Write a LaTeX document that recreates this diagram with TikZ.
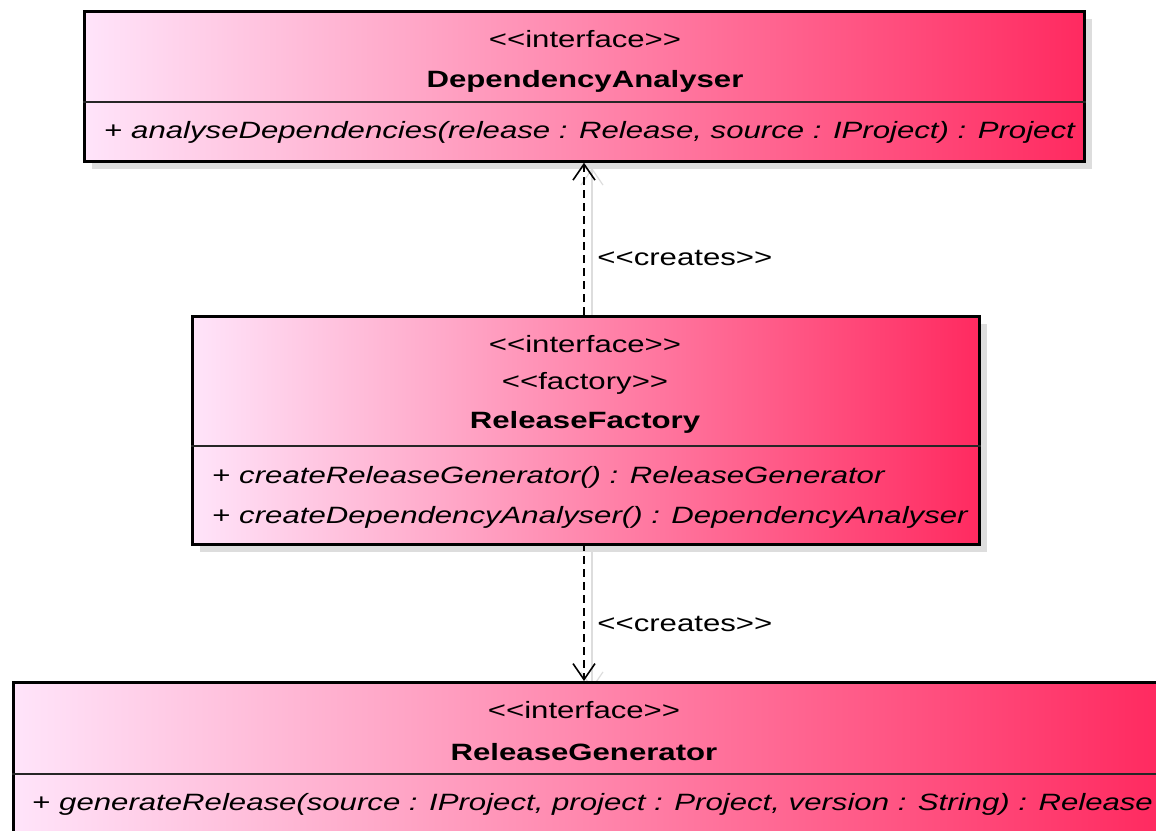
\documentclass[tikz,border=0pt]{standalone}
\usepackage{fontspec}
\usepackage{graphicx}
\setmainfont{Liberation Sans}
\usetikzlibrary{arrows.meta,shadows}

\definecolor{boxleft}{RGB}{255,228,250}
\definecolor{boxright}{RGB}{255,42,96}
\definecolor{shadowgray}{RGB}{221,221,221}

% glyphs in this diagram are set slightly wide
\newcommand{\wide}[1]{\scalebox{1.32}[1]{#1}}
% stereotype in plain angle brackets (kerns keep << from becoming a guillemet)
\newcommand{\stereo}[1]{<\kern0pt<#1>\kern0pt>}

\tikzset{
  classbox/.style={rectangle, draw=black, line width=1.35pt, inner sep=0pt,
    anchor=north west, left color=boxleft, right color=boxright,
    drop shadow={shadow xshift=4pt, shadow yshift=-4pt, fill=shadowgray, opacity=1}},
  divider/.style={line width=0.65pt, draw=black!85},
  txt/.style={inner sep=0pt, font=\fontsize{11.8}{14}\selectfont},
  dep/.style={line width=1pt, dash pattern=on 4pt off 2.5pt,
    -{Straight Barb[length=8pt, width=11pt, line width=0.8pt]}},
  depshadow/.style={line width=0.7pt, draw=shadowgray,
    -{Straight Barb[length=8pt, width=11pt, line width=0.6pt]}},
}

\begin{document}
\begin{tikzpicture}[x=0.5pt, y=-0.5pt]
  \path[use as bounding box] (0,0) rectangle (1156,830);
  \clip (0,0) rectangle (1156,830);
  \fill[white] (0,0) rectangle (1156,830);

  % shadows of the two dependencies
  \coordinate (s1a) at (592,323);
  \coordinate (s1b) at (592,168);
  \coordinate (s2a) at (592,551);
  \coordinate (s2b) at (592,689);
  \draw[depshadow] (s1a) -- (s1b);
  \draw[depshadow] (s2a) -- (s2b);

  % class boxes
  \node[classbox, minimum width=500pt, minimum height=75pt] (da) at (83,10) {};
  \node[classbox, minimum width=393.5pt, minimum height=114pt] (rf) at (191,315) {};
  \node[classbox, minimum width=572.5pt, minimum height=78pt] (rg) at (12,681) {};

  % compartment separators
  \draw[divider] (da.west |- 0,102) -- (da.east |- 0,102);
  \draw[divider] (rf.west |- 0,446) -- (rf.east |- 0,446);
  \draw[divider] (rg.west |- 0,774) -- (rg.east |- 0,774);

  % DependencyAnalyser
  \node[txt, anchor=base] (da-st) at (585,47) {\wide{\stereo{interface}}};
  \node[txt, anchor=base] (da-name) at (585,87) {\wide{\bfseries DependencyAnalyser}};
  \node[txt, anchor=base west] (da-op) at (104,138)
    {\wide{+ \itshape analyseDependencies(release : Release, source : IProject) : Project}};

  % ReleaseFactory
  \node[txt, anchor=base] (rf-st1) at (585,352) {\wide{\stereo{interface}}};
  \node[txt, anchor=base] (rf-st2) at (585,389) {\wide{\stereo{factory}}};
  \node[txt, anchor=base] (rf-name) at (585,428) {\wide{\bfseries ReleaseFactory}};
  \node[txt, anchor=base west] (rf-op1) at (212,483)
    {\wide{+ \itshape createReleaseGenerator() : ReleaseGenerator}};
  \node[txt, anchor=base west] (rf-op2) at (212,523)
    {\wide{+ \itshape createDependencyAnalyser() : DependencyAnalyser}};

  % ReleaseGenerator
  \node[txt, anchor=base] (rg-st) at (584,718) {\wide{\stereo{interface}}};
  \node[txt, anchor=base] (rg-name) at (584,760) {\wide{\bfseries ReleaseGenerator}};
  \node[txt, anchor=base west] (rg-op) at (32,810)
    {\wide{+ \itshape generateRelease(source : IProject, project : Project, version : String) : Release}};

  % dependencies
  \coordinate (p1) at (584,315);
  \coordinate (p2) at (584,543);
  \draw[dep] (p1) -- (p1 |- da.south);
  \draw[dep] (p2) -- (p2 |- rg.north);

  \node[txt, anchor=base west] (lbl1) at (597,265) {\wide{\stereo{creates}}};
  \node[txt, anchor=base west] (lbl2) at (597,631) {\wide{\stereo{creates}}};
\end{tikzpicture}
\end{document}
